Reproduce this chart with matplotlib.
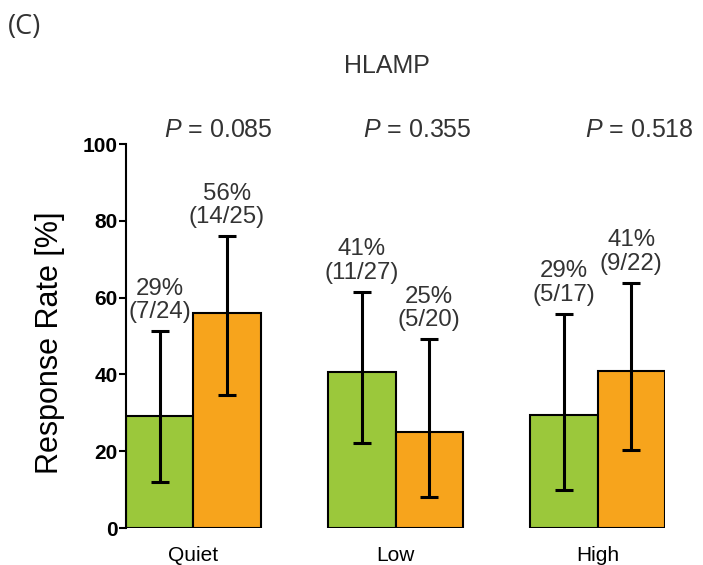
import matplotlib
matplotlib.use("Agg")
import matplotlib.pyplot as plt
import numpy as np

# Response data per noise condition
groups = ["Quiet", "Low", "High"]
responders_green = [7, 11, 5]
totals_green = [24, 27, 17]
responders_orange = [14, 5, 9]
totals_orange = [25, 20, 22]
ci_low_green = [12.0, 22.1, 9.9]
ci_high_green = [51.3, 61.5, 55.8]
ci_low_orange = [34.6, 8.2, 20.4]
ci_high_orange = [76.0, 49.2, 63.9]
p_values = ["0.085", "0.355", "0.518"]
y_ticks = [0, 20, 40, 60, 80, 100]

plt.rcParams["font.family"] = ["Liberation Sans", "DejaVu Sans"]
plt.rcParams["mathtext.fontset"] = "custom"
plt.rcParams["mathtext.it"] = "Liberation Sans:italic"
plt.rcParams["mathtext.rm"] = "Liberation Sans"

GREEN = "#9bc83b"
ORANGE = "#f7a41c"
TXT = "#333333"

fig = plt.figure(figsize=(7.03, 5.65), dpi=100)
ax = fig.add_axes([126 / 703, 37 / 565, 539 / 703, 384 / 565])

centers = np.arange(len(groups)) * 3.0
x_green = centers - 0.5
x_orange = centers + 0.5

rate_green = 100 * np.array(responders_green) / np.array(totals_green)
rate_orange = 100 * np.array(responders_orange) / np.array(totals_orange)

ax.bar(x_green, rate_green, width=1.0, color=GREEN, edgecolor="black", linewidth=1.5, zorder=2)
ax.bar(x_orange, rate_orange, width=1.0, color=ORANGE, edgecolor="black", linewidth=1.5, zorder=2)

for xs, rates, lo, hi in [(x_green, rate_green, ci_low_green, ci_high_green),
                          (x_orange, rate_orange, ci_low_orange, ci_high_orange)]:
    lo = np.array(lo)
    hi = np.array(hi)
    ax.errorbar(xs, rates, yerr=[rates - lo, hi - rates], fmt="none", ecolor="black",
                elinewidth=2.2, capsize=6.5, capthick=2.2, zorder=3)

for xs, rates, hi, r, t in [(x_green, rate_green, ci_high_green, responders_green, totals_green),
                            (x_orange, rate_orange, ci_high_orange, responders_orange, totals_orange)]:
    for xi, ri, hii, rr, tt in zip(xs, rates, hi, r, t):
        ax.text(xi, hii + 2.0, f"{ri:.0f}%\n({rr}/{tt})", ha="center", va="bottom",
                fontsize=17.3, color=TXT, linespacing=1.1, clip_on=False)

p_x = [0.363, 3.326, 6.615]
for px, pv in zip(p_x, p_values):
    ax.text(px, 101.8, f"$P$ = {pv}", ha="center", va="baseline", fontsize=18,
            color=TXT, clip_on=False)

ax.set_xlim(-1, 7)
ax.set_ylim(0, 100)
ax.set_yticks(y_ticks)
ax.set_yticklabels([str(v) for v in y_ticks], fontsize=15, fontweight="bold")
ax.set_xticks(centers)
ax.set_xticklabels(groups, fontsize=15, color="black")
ax.tick_params(axis="x", length=0, pad=13)
ax.tick_params(axis="y", length=5, width=1.5, pad=1)

for side in ["top", "right", "bottom"]:
    ax.spines[side].set_visible(False)
ax.spines["left"].set_linewidth(1.5)

fig.text(50 / 703, 1 - 343 / 565, "Response Rate [%]", rotation=90, ha="center", va="center",
         fontsize=22, color="black")
fig.text(386.5 / 703, 1 - 73 / 565, "HLAMP", ha="center", va="baseline", fontsize=18, color=TXT)
fig.text(8 / 703, 1 - 34 / 565, "(C)", ha="left", va="baseline", fontsize=19.5,
         color=TXT, family=["Open Sans", "DejaVu Sans"])

fig.savefig("out.png", dpi=100)
